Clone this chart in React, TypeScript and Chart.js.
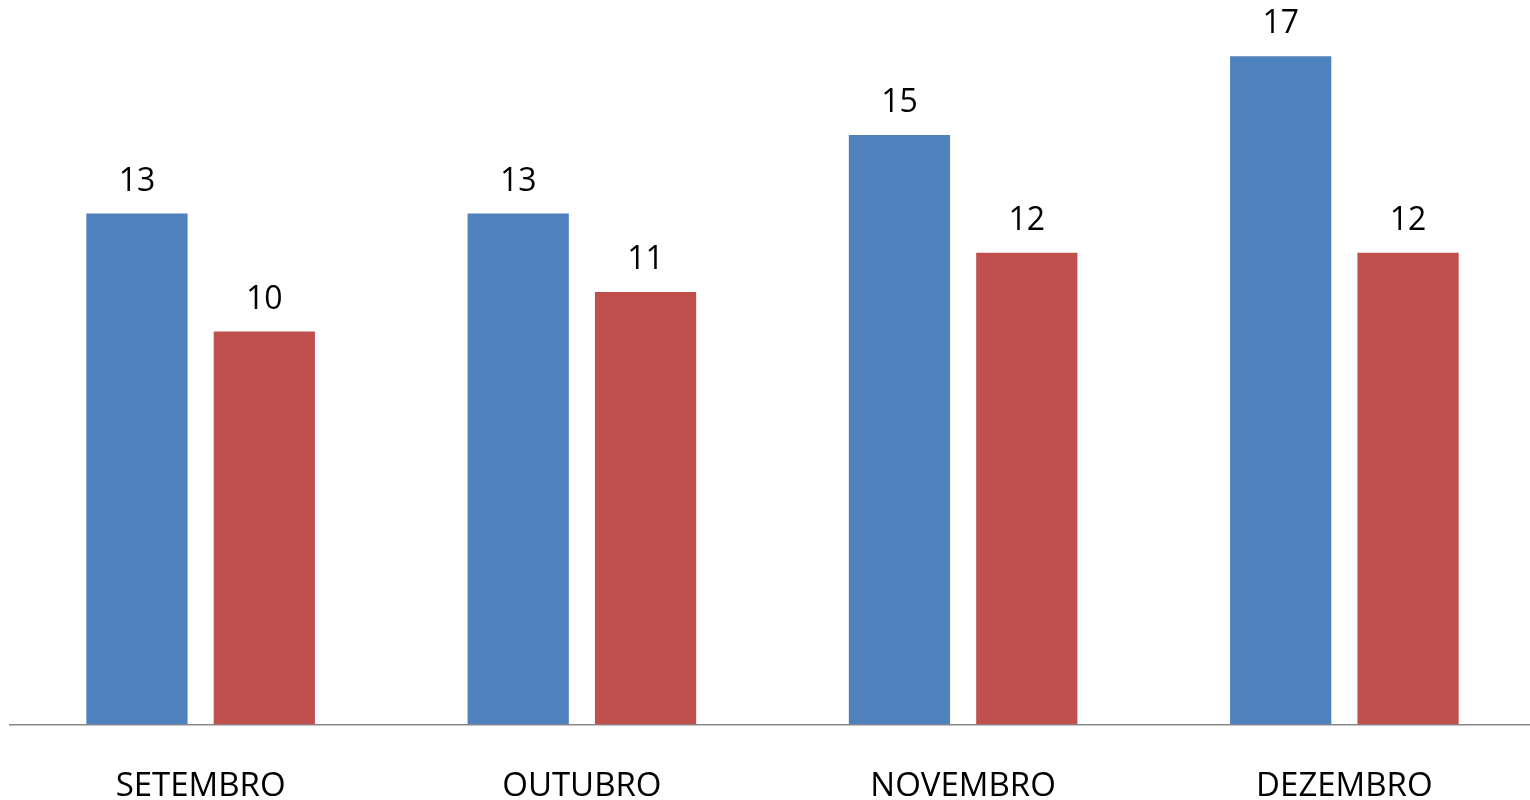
import React, { useEffect, useRef } from "react";
import { Chart, registerables } from "chart.js";

Chart.register(...registerables);

const categories = ["SETEMBRO", "OUTUBRO", "NOVEMBRO", "DEZEMBRO"];
const seriesBlue = [13, 13, 15, 17];
const seriesRed = [10, 11, 12, 12];

const FONT = "'Open Sans', 'Noto Sans', sans-serif";

const valueLabels = {
  id: "valueLabels",
  afterDatasetsDraw(chart: any) {
    const ctx = chart.ctx;
    ctx.save();
    ctx.fillStyle = "#000";
    ctx.font = `32px ${FONT}`;
    ctx.textAlign = "center";
    ctx.textBaseline = "middle";
    chart.data.datasets.forEach((ds: any, i: number) => {
      const meta = chart.getDatasetMeta(i);
      meta.data.forEach((bar: any, j: number) => {
        ctx.fillText(String(ds.data[j]), bar.x, bar.y - 32);
      });
    });
    ctx.restore();
  },
};

export default function App() {
  const ref = useRef<HTMLCanvasElement>(null);
  useEffect(() => {
    if (!ref.current) return;
    const chart = new Chart(ref.current, {
      type: "bar",
      data: {
        labels: categories,
        datasets: [
          { data: seriesBlue, backgroundColor: "#4F81BD", categoryPercentage: 0.668, barPercentage: 0.795 },
          { data: seriesRed, backgroundColor: "#C0504D", categoryPercentage: 0.668, barPercentage: 0.795 },
        ],
      },
      options: {
        responsive: false,
        animation: false,
        layout: { padding: { left: 10, right: 0, top: 17, bottom: 0 } },
        plugins: { legend: { display: false }, tooltip: { enabled: false } },
        scales: {
          x: {
            grid: { display: false, drawTicks: false },
            border: { display: true, color: "#898989", width: 1.5 },
            ticks: { color: "#000", font: { family: FONT, size: 33 }, padding: 42, maxRotation: 0 },
          },
          y: { display: false, min: 0, max: 18 },
        },
      },
      plugins: [valueLabels],
    });
    return () => chart.destroy();
  }, []);
  return (
    <div style={{ position: "fixed", left: 0, top: 0, width: 1530, height: 800, background: "#fff", overflow: "hidden" }}>
      <canvas ref={ref} width={1535} height={848} style={{ width: 1535, height: 848, display: "block" }} />
    </div>
  );
}
